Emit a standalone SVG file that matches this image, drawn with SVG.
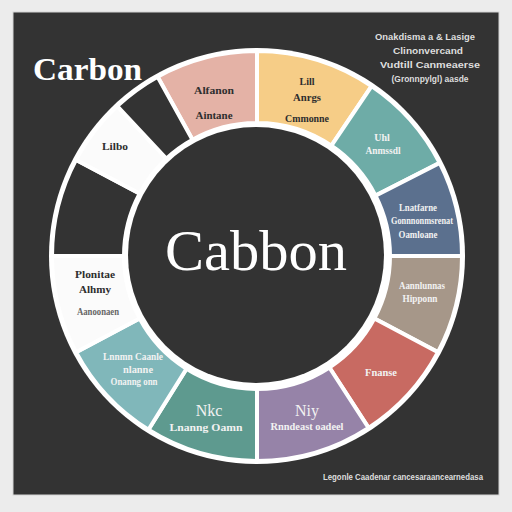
<svg xmlns="http://www.w3.org/2000/svg" width="512" height="512" viewBox="0 0 512 512">
<style>
.seg{stroke:#ffffff;stroke-width:4;stroke-linejoin:miter}
.lbl{font-family:"Liberation Serif","DejaVu Serif",serif;font-weight:bold;font-size:10px;text-anchor:middle}
.dk{fill:#2e2e2e}
.lt{fill:#f2f2f2}
.big{font-size:16px;font-weight:normal}
.note{font-family:"Liberation Sans","DejaVu Sans",sans-serif;font-size:9px;fill:#dedede;text-anchor:middle;font-weight:bold}
</style>
<rect width="512" height="512" fill="#ececec"/>
<rect x="13" y="12" width="486" height="483" fill="#333333" stroke="#d4d4d4" stroke-width="1"/>
<text x="33" y="80" font-family="Liberation Serif, DejaVu Serif, serif" font-weight="bold" font-size="32" fill="#ffffff" textLength="109" lengthAdjust="spacingAndGlyphs">Carbon</text>
<g id="notes">
<text class="note" x="425" y="40" textLength="100" lengthAdjust="spacingAndGlyphs">Onakdisma a &amp; Lasige</text>
<text class="note" x="428" y="54" textLength="70" lengthAdjust="spacingAndGlyphs">Clinonvercand</text>
<text class="note" x="430" y="68" textLength="100" lengthAdjust="spacingAndGlyphs">Vudtill Canmeaerse</text>
<text class="note" x="430" y="82" textLength="77" lengthAdjust="spacingAndGlyphs">(Gronnpylgl) aasde</text>
<text class="note" x="403" y="480" textLength="160" lengthAdjust="spacingAndGlyphs">Legonle Caadenar cancesaraancearnedasa</text>
</g>
<circle cx="257" cy="256" r="208" fill="#ffffff"/>
<g id="connectors"></g>
<g id="seg-pink">
<path class="seg" fill="#e4b2a6" d="M157.6,76.7 A205,205 0 0 1 257,51 L257,123 A133,133 0 0 0 192.5,139.7 Z"/>
<text class="lbl dk" x="214" y="94" textLength="40" lengthAdjust="spacingAndGlyphs">Alfanon</text>
<text class="lbl dk" x="214" y="119" textLength="37" lengthAdjust="spacingAndGlyphs">Aintane</text>
</g>
<g id="seg-yellow">
<path class="seg" fill="#f6cd87" d="M257,51 A205,205 0 0 1 371.6,86.1 L331.4,145.7 A133,133 0 0 0 257,123 Z"/>
<text class="lbl dk" x="307" y="85">Lill</text>
<text class="lbl dk" x="307" y="101" textLength="28" lengthAdjust="spacingAndGlyphs">Anrgs</text>
<text class="lbl dk" x="307" y="122" textLength="44" lengthAdjust="spacingAndGlyphs">Cmmonne</text>
</g>
<g id="seg-teal">
<path class="seg" fill="#6eaca7" d="M371.6,86.1 A205,205 0 0 1 439.7,162.9 L375.5,195.6 A133,133 0 0 0 331.4,145.7 Z"/>
<text class="lbl lt" x="382" y="141">Uhl</text>
<text class="lbl lt" x="383" y="154" textLength="35" lengthAdjust="spacingAndGlyphs">Anmssdl</text>
</g>
<g id="seg-blue">
<path class="seg" fill="#5b708e" d="M439.7,162.9 A205,205 0 0 1 462,256 L390,256 A133,133 0 0 0 375.5,195.6 Z"/>
<text class="lbl lt" x="418" y="211" textLength="38" lengthAdjust="spacingAndGlyphs">Lnatfarne</text>
<text class="lbl lt" x="422" y="224" textLength="62" lengthAdjust="spacingAndGlyphs">Gonnnonmsrenat</text>
<text class="lbl lt" x="418" y="238" textLength="39" lengthAdjust="spacingAndGlyphs">Oamloane</text>
</g>
<g id="seg-tan">
<path class="seg" fill="#a69789" d="M462,256 A205,205 0 0 1 438,352.2 L374.4,318.4 A133,133 0 0 0 390,256 Z"/>
<text class="lbl lt" x="422" y="289" textLength="46" lengthAdjust="spacingAndGlyphs">Aannlunnas</text>
<text class="lbl lt" x="420" y="302" textLength="35" lengthAdjust="spacingAndGlyphs">Hipponn</text>
</g>
<g id="seg-red">
<path class="seg" fill="#c86a62" d="M438,352.2 A205,205 0 0 1 368.6,427.9 L329.4,367.5 A133,133 0 0 0 374.4,318.4 Z"/>
<text class="lbl lt" x="381" y="376" textLength="32" lengthAdjust="spacingAndGlyphs">Fnanse</text>
</g>
<g id="seg-purple">
<path class="seg" fill="#9683a8" d="M368.6,427.9 A205,205 0 0 1 257,461 L257,389 A133,133 0 0 0 329.4,367.5 Z"/>
<text class="lbl lt big" x="307" y="416">Niy</text>
<text class="lbl lt" x="307" y="430" textLength="73" lengthAdjust="spacingAndGlyphs">Rnndeast oadeel</text>
</g>
<g id="seg-green">
<path class="seg" fill="#5e9a8f" d="M257,461 A205,205 0 0 1 148.4,429.8 L186.5,368.8 A133,133 0 0 0 257,389 Z"/>
<text class="lbl lt big" x="209" y="416">Nkc</text>
<text class="lbl lt" x="206" y="431" textLength="73" lengthAdjust="spacingAndGlyphs">Lnanng Oamn</text>
</g>
<g id="seg-lightteal">
<path class="seg" fill="#80b7ba" d="M148.4,429.8 A205,205 0 0 1 76,352.2 L139.6,318.4 A133,133 0 0 0 186.5,368.8 Z"/>
<text class="lbl lt" x="133" y="360" textLength="60" lengthAdjust="spacingAndGlyphs">Lnnmn Caanle</text>
<text class="lbl lt" x="138" y="373" textLength="30" lengthAdjust="spacingAndGlyphs">nlanne</text>
<text class="lbl lt" x="134" y="385" textLength="47" lengthAdjust="spacingAndGlyphs">Onanng onn</text>
</g>
<g id="seg-white-low">
<path class="seg" fill="#fbfbfb" d="M76,352.2 A205,205 0 0 1 52,256 L124,256 A133,133 0 0 0 139.6,318.4 Z"/>
<text class="lbl dk" x="95" y="278" textLength="40" lengthAdjust="spacingAndGlyphs">Plonitae</text>
<text class="lbl dk" x="95" y="293" textLength="32" lengthAdjust="spacingAndGlyphs">Alhmy</text>
<text class="lbl" x="98" y="315" fill="#666" font-size="8px" textLength="42" lengthAdjust="spacingAndGlyphs">Aanoonaen</text>
</g>
<g id="seg-dark-left">
<path class="seg" fill="#333333" d="M52,256 A205,205 0 0 1 76,159.8 L139.6,193.6 A133,133 0 0 0 124,256 Z"/>
</g>
<g id="seg-white-up">
<path class="seg" fill="#fbfbfb" d="M76,159.8 A205,205 0 0 1 117.2,106.1 L166.3,158.7 A133,133 0 0 0 139.6,193.6 Z"/>
<text class="lbl dk" x="115" y="150" textLength="26" lengthAdjust="spacingAndGlyphs">Lilbo</text>
</g>
<g id="seg-dark-up">
<path class="seg" fill="#333333" d="M117.2,106.1 A205,205 0 0 1 157.6,76.7 L192.5,139.7 A133,133 0 0 0 166.3,158.7 Z"/>
</g>
<g id="center">
<circle cx="256" cy="255" r="128" fill="#333333"/>
<text x="256" y="270" font-family="Liberation Serif, DejaVu Serif, serif" font-size="56" fill="#ffffff" text-anchor="middle" textLength="182" lengthAdjust="spacingAndGlyphs">Cabbon</text>
</g>
</svg>
